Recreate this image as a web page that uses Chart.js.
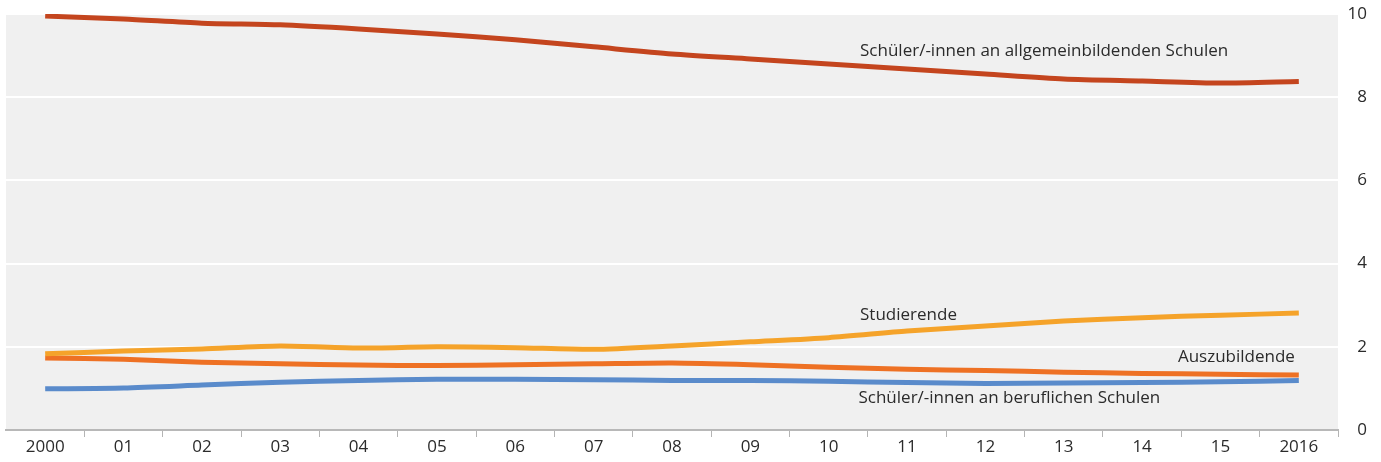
<!DOCTYPE html>
<html>
<head>
<meta charset="utf-8">
<script src="https://cdn.jsdelivr.net/npm/chart.js@4/dist/chart.umd.min.js"></script>
<style>
  html, body { margin: 0; padding: 0; background: #fff; }
  #wrap { width: 1381px; height: 462px; position: relative; }
</style>
</head>
<body>
<div id="wrap"><canvas id="line-chart"></canvas></div>
<script>
// Data (millions)
var years = ['2000', '01', '02', '03', '04', '05', '06', '07', '08', '09', '10', '11', '12', '13', '14', '15', '2016'];
var allgemein = [9.95, 9.88, 9.78, 9.74, 9.64, 9.52, 9.38, 9.21, 9.04, 8.92, 8.80, 8.68, 8.56, 8.44, 8.39, 8.34, 8.38];
var studierende = [1.83, 1.90, 1.95, 2.02, 1.97, 2.00, 1.98, 1.94, 2.02, 2.12, 2.22, 2.38, 2.50, 2.62, 2.70, 2.76, 2.81];
var azubis = [1.73, 1.70, 1.63, 1.59, 1.56, 1.55, 1.57, 1.59, 1.61, 1.57, 1.51, 1.46, 1.43, 1.39, 1.36, 1.34, 1.32];
var beruflich = [0.99, 1.01, 1.08, 1.15, 1.19, 1.22, 1.22, 1.21, 1.19, 1.19, 1.17, 1.14, 1.12, 1.13, 1.14, 1.16, 1.19];
var yTicks = [0, 2, 4, 6, 8, 10];

var FONT = '"Open Sans", sans-serif';

// Series labels, anchored at a category index and a value
var seriesLabels = [
    { text: 'Schüler/-innen an allgemeinbildenden Schulen', idx: 10.4, val: 9.11, align: 'left' },
    { text: 'Studierende', idx: 10.4, val: 2.76, align: 'left' },
    { text: 'Auszubildende', idx: 15.95, val: 1.74, align: 'right' },
    { text: 'Schüler/-innen an beruflichen Schulen', idx: 10.38, val: 0.77, align: 'left' }
];

var plotBackground = {
    id: 'plotBackground',
    beforeDraw: function(chart) {
        var a = chart.chartArea, ctx = chart.ctx;
        ctx.save();
        ctx.fillStyle = '#f0f0f0';
        ctx.fillRect(a.left, a.top, a.right - a.left, a.bottom - a.top);
        ctx.restore();
    }
};

var lineLabels = {
    id: 'lineLabels',
    afterDatasetsDraw: function(chart) {
        var ctx = chart.ctx, x = chart.scales.x, y = chart.scales.y;
        var step = x.getPixelForValue(1) - x.getPixelForValue(0);
        ctx.save();
        ctx.font = '17px ' + FONT;
        ctx.fillStyle = '#2b2b2b';
        ctx.textBaseline = 'middle';
        seriesLabels.forEach(function(l) {
            ctx.textAlign = l.align;
            ctx.fillText(l.text, x.getPixelForValue(0) + l.idx * step, y.getPixelForValue(l.val));
        });
        ctx.restore();
    }
};

function series(data, color) {
    return {
        data: data,
        borderColor: color,
        borderWidth: 5,
        pointRadius: 0,
        tension: 0.25,
        fill: false
    };
}

var config = {
    type: 'line',
    data: {
        labels: years,
        datasets: [
            series(allgemein, '#c4451e'),
            series(studierende, '#f5a32a'),
            series(azubis, '#ee7124'),
            series(beruflich, '#5a8bcb')
        ]
    },
    options: {
        responsive: true,
        maintainAspectRatio: false,
        animation: false,
        layout: { padding: { left: 6, top: 14, right: 14, bottom: 0 } },
        plugins: { legend: { display: false }, tooltip: { enabled: false } },
        scales: {
            x: {
                offset: true,
                grid: {
                    display: true, drawOnChartArea: false, offset: true, tickLength: 7, lineWidth: 1,
                    color: function(c) { return (c.index === 0 || c.index === years.length) ? 'rgba(0,0,0,0)' : '#b4b4b4'; }
                },
                border: { display: true, color: '#b8b8b8', width: 2 },
                ticks: { color: '#2b2b2b', font: { size: 17, family: FONT }, padding: 0, maxRotation: 0, autoSkip: false },
                afterFit: function(s) { s.height = 32; }
            },
            y: {
                position: 'right',
                min: 0,
                max: 10,
                afterBuildTicks: function(s) { s.ticks = yTicks.map(function(v) { return { value: v }; }); },
                grid: { color: '#ffffff', lineWidth: 2, drawTicks: false },
                border: { display: false },
                ticks: { color: '#2b2b2b', font: { size: 17, family: FONT }, crossAlign: 'far', padding: 0 },
                afterFit: function(s) { s.width = 29; }
            }
        }
    },
    plugins: [plotBackground, lineLabels]
};

new Chart(document.getElementById('line-chart'), config);
</script>
</body>
</html>
